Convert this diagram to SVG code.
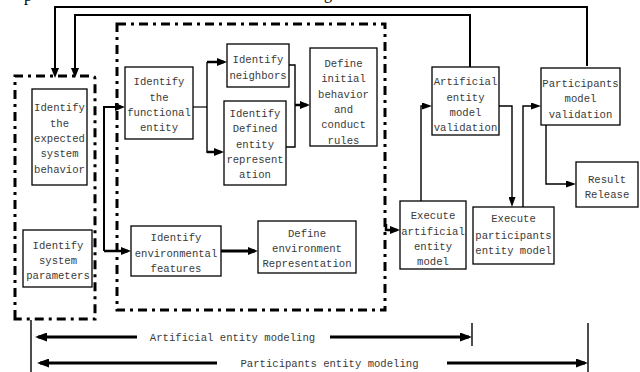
<svg xmlns="http://www.w3.org/2000/svg" width="640" height="372" viewBox="0 0 640 372">
<style>
.box{fill:#fff;stroke:#000;stroke-width:1.3}
.dd{fill:none;stroke:#000;stroke-width:3;stroke-dasharray:9 5 3 5}
.t{font-family:"Liberation Mono","DejaVu Sans Mono",monospace;font-size:10.6px;fill:#3a3a3a;text-anchor:middle}
.c{fill:none;stroke:#000}
.hv{stroke-width:2.5}
.md{stroke-width:2}
.th{stroke-width:1.4}
.frag{font-family:"Liberation Serif",serif;font-size:16px;fill:#000}
</style>
<defs>
<marker id="ah" markerUnits="userSpaceOnUse" viewBox="0 0 10 8" markerWidth="10" markerHeight="8" refX="7" refY="4" orient="auto"><path d="M0,0 L10,4 L0,8 z" fill="#000"/></marker>
<marker id="as" markerUnits="userSpaceOnUse" viewBox="0 0 10 7" markerWidth="10" markerHeight="7" refX="7" refY="3.5" orient="auto"><path d="M0,0 L10,3.5 L0,7 z" fill="#000"/></marker>
<marker id="ab" markerUnits="userSpaceOnUse" viewBox="0 0 12 9" markerWidth="12" markerHeight="9" refX="9" refY="4.5" orient="auto"><path d="M0,0 L12,4.5 L0,9 z" fill="#000"/></marker>
</defs>
<text class="frag" x="24" y="1">p</text>
<text class="frag" x="324" y="-1.5">g</text>
<g id="groups">
<path class="dd" d="M15,319 V76 H92 Q95,76 95,79 V319 Z"/>
<rect class="dd" x="117" y="24" width="268" height="286"/>
</g>
<g id="connectors">
<path class="c md" d="M587,66 V7 H55 V75" marker-end="url(#ah)"/>
<path class="c md" d="M470,67 V15 H75 V75" marker-end="url(#ah)"/>
<path class="c md" d="M104,251 V107 H122" marker-end="url(#ah)"/>
<path class="c hv" d="M104,251 H128" marker-end="url(#ah)"/>
<path class="c" stroke-width="1.2" d="M193,107 H207"/>
<path class="c th" d="M207,62 V153"/>
<path class="c hv" d="M207,62 H224" marker-end="url(#ah)"/>
<path class="c hv" d="M207,152 H221" marker-end="url(#ah)"/>
<path class="c th" d="M289,65 H295 V147 H286"/>
<path class="c hv" d="M295,105 H307" marker-end="url(#ah)"/>
<path class="c" stroke-width="3" d="M221,251 H255" marker-end="url(#ah)"/>
<path class="c hv" d="M386,224 V230 H397" marker-end="url(#ah)"/>
<path class="c th" d="M421,201 V106 H429" marker-end="url(#as)"/>
<path class="c th" d="M499,106 H512 V204" marker-end="url(#as)"/>
<path class="c th" d="M523,207 V106 H538" marker-end="url(#as)"/>
<path class="c th" d="M546,125 V184 H573" marker-end="url(#as)"/>
<path class="c th" d="M31,320 V372"/>
<path class="c" stroke-width="3" d="M137,337 H38" marker-end="url(#ab)"/>
<path class="c" stroke-width="3" d="M330,337 H469" marker-end="url(#ab)"/>
<path class="c th" d="M472,323 V346"/>
<path class="c" stroke-width="3" d="M217,363 H40" marker-end="url(#ab)"/>
<path class="c" stroke-width="3" d="M447,363 H585" marker-end="url(#ab)"/>
<path class="c th" d="M588,323 V372"/>
<text class="t" x="232.5" y="341">Artificial entity modeling</text>
<text class="t" x="329.5" y="367">Participants entity modeling</text>
</g>
<g id="n_expected">
<rect class="box" x="32" y="89" width="55" height="96"/>
<text class="t" x="59.5" y="111">Identify</text>
<text class="t" x="59.5" y="127">the</text>
<text class="t" x="59.5" y="142">expected</text>
<text class="t" x="59.5" y="157">system</text>
<text class="t" x="59.5" y="173">behavior</text>
</g>
<g id="n_params">
<rect class="box" x="23" y="230" width="69" height="57"/>
<text class="t" x="58" y="249">Identify</text>
<text class="t" x="58" y="264">system</text>
<text class="t" x="58" y="279">parameters</text>
</g>
<g id="n_functional">
<rect class="box" x="125" y="67" width="68" height="72"/>
<text class="t" x="159" y="85">Identify</text>
<text class="t" x="159" y="101">the</text>
<text class="t" x="159" y="116">functional</text>
<text class="t" x="159" y="131">entity</text>
</g>
<g id="n_neighbors">
<rect class="box" x="227" y="44" width="62" height="43"/>
<text class="t" x="258" y="63">Identify</text>
<text class="t" x="258" y="79">neighbors</text>
</g>
<g id="n_defined">
<rect class="box" x="224" y="101" width="62" height="84"/>
<text class="t" x="255" y="117">Identify</text>
<text class="t" x="255" y="132">Defined</text>
<text class="t" x="255" y="148">entity</text>
<text class="t" x="255" y="163">represent</text>
<text class="t" x="255" y="178">ation</text>
</g>
<g id="n_initial">
<rect class="box" x="310" y="48" width="67" height="98"/>
<text class="t" x="343.5" y="67">Define</text>
<text class="t" x="343.5" y="82">initial</text>
<text class="t" x="343.5" y="98">behavior</text>
<text class="t" x="343.5" y="113">and</text>
<text class="t" x="343.5" y="128">conduct</text>
<text class="t" x="343.5" y="144">rules</text>
</g>
<g id="n_envfeat">
<rect class="box" x="131" y="226" width="90" height="50"/>
<text class="t" x="176" y="241">Identify</text>
<text class="t" x="176" y="257">environmental</text>
<text class="t" x="176" y="272">features</text>
</g>
<g id="n_envrep">
<rect class="box" x="258" y="221" width="98" height="52"/>
<text class="t" x="307" y="237">Define</text>
<text class="t" x="307" y="252">environment</text>
<text class="t" x="307" y="267">Representation</text>
</g>
<g id="n_artval">
<rect class="box" x="432" y="67" width="67" height="68"/>
<text class="t" x="465.5" y="85">Artificial</text>
<text class="t" x="465.5" y="101">entity</text>
<text class="t" x="465.5" y="116">model</text>
<text class="t" x="465.5" y="131">validation</text>
</g>
<g id="n_partval">
<rect class="box" x="541" y="68" width="79" height="57"/>
<text class="t" x="580.5" y="87">Participants</text>
<text class="t" x="580.5" y="102">model</text>
<text class="t" x="580.5" y="118">validation</text>
</g>
<g id="n_result">
<rect class="box" x="576" y="162" width="62" height="45"/>
<text class="t" x="607" y="183">Result</text>
<text class="t" x="607" y="198">Release</text>
</g>
<g id="n_execart">
<rect class="box" x="400" y="201" width="66" height="68"/>
<text class="t" x="433" y="219">Execute</text>
<text class="t" x="433" y="235">artificial</text>
<text class="t" x="433" y="250">entity</text>
<text class="t" x="433" y="265">model</text>
</g>
<g id="n_execpart">
<rect class="box" x="473" y="207" width="81" height="57"/>
<text class="t" x="513.5" y="222">Execute</text>
<text class="t" x="513.5" y="239">participants</text>
<text class="t" x="513.5" y="254">entity model</text>
</g>
</svg>
